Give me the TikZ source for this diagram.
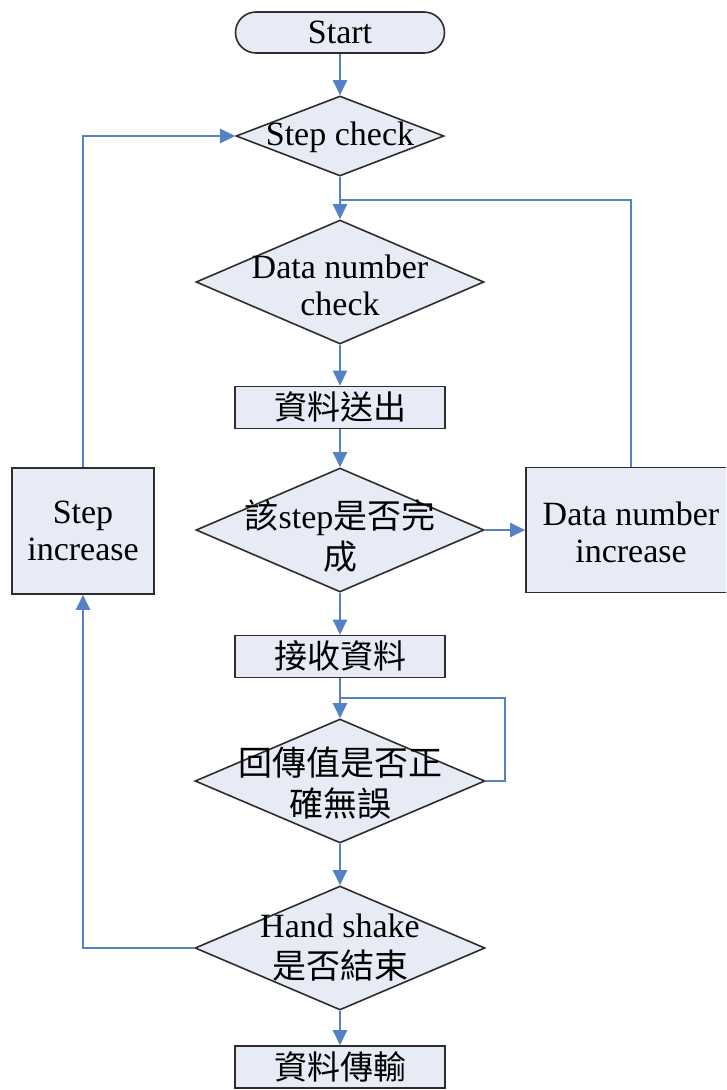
\documentclass[tikz,border=0pt]{standalone}
\usepackage{fontspec}
\setmainfont{Liberation Serif}
\newfontfamily\cjk{Noto Sans CJK TC}
\usetikzlibrary{shapes.geometric,shapes.misc,arrows.meta}
\definecolor{boxfill}{RGB}{230,235,246}
\definecolor{boxline}{RGB}{45,45,45}
\definecolor{flow}{RGB}{84,130,196}
\tikzset{
  base/.style={draw=boxline, fill=boxfill, line width=1.6pt, inner sep=0pt},
  term/.style={base, rounded rectangle, minimum width=209pt, minimum height=41pt},
  procbox/.style={base, rectangle, minimum width=210pt, minimum height=42pt},
  bigbox/.style={base, rectangle, minimum width=142pt, minimum height=126pt},
  decision/.style={base, diamond, minimum width=288pt, minimum height=124pt},
  txt/.style={align=center, inner sep=0pt, font=\fontsize{34}{37}\selectfont},
  txtc/.style={align=center, inner sep=0pt, font=\fontsize{34}{41}\selectfont},
  flowline/.style={draw=flow, line width=2.3pt},
  arr/.style={flowline, -{Triangle[length=15pt,width=14pt]}}
}
\begin{document}
\begin{tikzpicture}[x=1pt,y=-1pt]
\clip (0,0) rectangle (726,1090);
\fill[white] (0,0) rectangle (726,1090);
% shapes
\node[term] (start) at (340,32.5) {};
\node[txt] (startt) at (340,32) {Start};
\node[base, diamond, minimum width=208pt, minimum height=80pt] (stepchk) at (340,136) {};
\node[txt] (stepchkt) at (340,137) {Step check};
\node[decision] (dnchk) at (340,282) {};
\node[txt] (dnchkt) at (340,285) {Data number\\check};
\node[procbox] (send) at (340,407.5) {};
\node[txt] (sendt) at (340,407) {{\cjk\fontsize{33}{37}\selectfont 資料送出}};
\node[decision] (done) at (340,530) {};
\node[txtc] (donet) at (340,536) {{\cjk 該}step{\cjk 是否完}\\{\cjk 成}};
\node[bigbox, minimum width=210pt, minimum height=125pt] (dninc) at (631,530) {};
\node[txt] (dninct) at (631,532) {Data number\\increase};
\node[bigbox] (stepinc) at (83,531) {};
\node[txt] (stepinct) at (83,531) {Step\\increase};
\node[procbox] (recv) at (340,656.5) {};
\node[txt] (recvt) at (340,656) {{\cjk\fontsize{33}{37}\selectfont 接收資料}};
\node[decision, minimum width=290pt] (ret) at (340,781) {};
\node[txtc] (rett) at (340,783) {{\cjk 回傳值是否正}\\{\cjk 確無誤}};
\node[decision, minimum width=290pt] (hs) at (340,948) {};
\node[txtc] (hst) at (340,948) {Hand shake\\{\cjk 是否結束}};
\node[procbox] (xfer) at (340,1067) {};
\node[txt] (xfert) at (340,1067) {{\cjk\fontsize{33}{37}\selectfont 資料傳輸}};
% junctions
\coordinate (j1) at (340,200);
\coordinate (r1) at (505,698);
\coordinate (j2) at (340,698);
% connectors
\draw[arr] (start.south) -- (stepchk.north);
\draw[arr] (stepchk.south) -- (dnchk.north);
\draw[arr] (dnchk.south) -- (send.north);
\draw[arr] (send.south) -- (done.north);
\draw[arr] (done.east) -- (dninc.west);
\draw[flowline] (dninc.north) |- (j1);
\draw[arr] (done.south) -- (recv.north);
\draw[arr] (recv.south) -- (ret.north);
\draw[flowline] (ret.east) -| (r1) -- (j2);
\draw[arr] (ret.south) -- (hs.north);
\draw[arr] (hs.south) -- (xfer.north);
\draw[arr] (hs.west) -| (stepinc.south);
\draw[arr] (stepinc.north) |- (stepchk.west);
\end{tikzpicture}
\end{document}
